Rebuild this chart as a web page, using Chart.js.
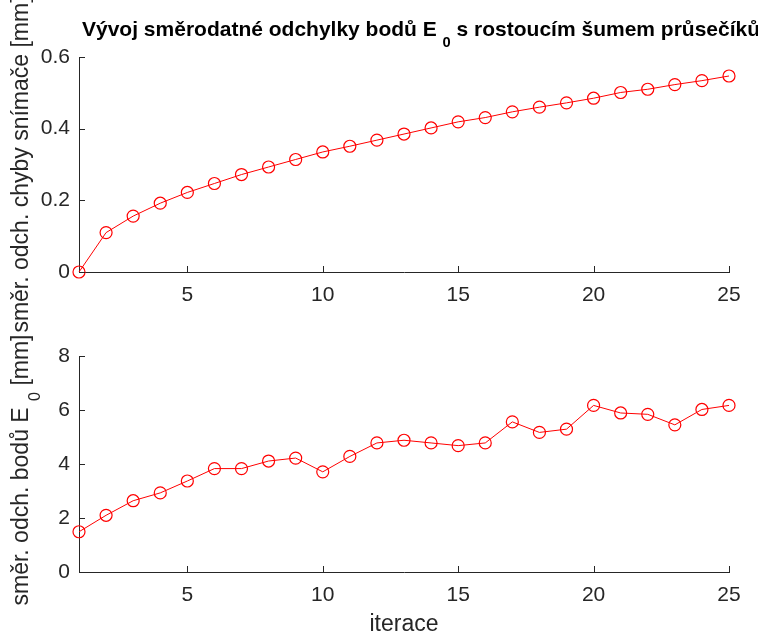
<!DOCTYPE html>
<html>
<head>
<meta charset="utf-8">
<script src="https://cdn.jsdelivr.net/npm/chart.js@4.4.1/dist/chart.umd.min.js"></script>
<style>
  body { margin: 0; background: #fff; width: 758px; height: 634px; overflow: hidden; position: relative; }
  .box { position: absolute; left: 0; top: 0; width: 758px; height: 634px; }
</style>
</head>
<body>
<div class="box"><canvas id="topChart"></canvas></div>
<div class="box"><canvas id="bottomChart"></canvas></div>
<script>
const iterations = [1, 2, 3, 4, 5, 6, 7, 8, 9, 10, 11, 12, 13, 14, 15, 16, 17, 18, 19, 20, 21, 22, 23, 24, 25];
const sensorStd = [0, 0.110, 0.156, 0.192, 0.222, 0.247, 0.272, 0.293, 0.314, 0.335, 0.351, 0.368, 0.385,
                   0.402, 0.419, 0.431, 0.447, 0.460, 0.472, 0.485, 0.501, 0.510, 0.523, 0.534, 0.547];
const pointStd = [1.49, 2.10, 2.64, 2.93, 3.37, 3.83, 3.83, 4.11, 4.22, 3.71, 4.28, 4.78, 4.88,
                  4.78, 4.68, 4.78, 5.56, 5.17, 5.29, 6.17, 5.89, 5.84, 5.45, 6.02, 6.17];
const xTicks = [5, 10, 15, 20, 25];
const topYTicks = [0, 0.2, 0.4, 0.6];
const bottomYTicks = [0, 2, 4, 6, 8];

const FONT = '"Liberation Sans", Arial, Helvetica, sans-serif';
const INK = '#262626';

// draws text pieces, some as subscripts, starting at x (baseline y)
function drawParts(ctx, parts, x, y, size, bold) {
    parts.forEach(p => {
        const s = p.sub ? size * 0.7 : size;
        ctx.font = (bold ? 'bold ' : '') + s + 'px ' + FONT;
        ctx.fillText(p.t, x, y + (p.sub ? size * 0.5 : 0));
        x += ctx.measureText(p.t).width;
    });
}
function partsWidth(ctx, parts, size, bold) {
    let w = 0;
    parts.forEach(p => {
        ctx.font = (bold ? 'bold ' : '') + (p.sub ? size * 0.7 : size) + 'px ' + FONT;
        w += ctx.measureText(p.t).width;
    });
    return w;
}

// MATLAB style: ticks pointing inward + labels
const decor = {
    id: 'decor',
    afterDraw(chart, args, opts) {
        const { ctx, chartArea: a, scales } = chart;
        ctx.save();
        ctx.strokeStyle = INK;
        ctx.lineWidth = 1;
        scales.x.ticks.forEach(t => {
            const px = Math.round(scales.x.getPixelForValue(t.value)) + 0.5;
            ctx.beginPath(); ctx.moveTo(px, a.bottom); ctx.lineTo(px, a.bottom - 6); ctx.stroke();
        });
        scales.y.ticks.forEach(t => {
            const py = Math.round(scales.y.getPixelForValue(t.value)) + 0.5;
            ctx.beginPath(); ctx.moveTo(a.left, py); ctx.lineTo(a.left + 6, py); ctx.stroke();
        });

        ctx.fillStyle = INK;
        ctx.textBaseline = 'alphabetic';
        ctx.textAlign = 'left';
        // y label, rotated
        const size = 23;
        const w = partsWidth(ctx, opts.yLabel, size, false);
        ctx.save();
        ctx.translate(opts.yLabelX, (a.top + a.bottom) / 2 + (opts.yLabelShift || 0));
        ctx.rotate(-Math.PI / 2);
        drawParts(ctx, opts.yLabel, -w / 2, 0, size, false);
        ctx.restore();

        if (opts.title) {
            ctx.fillStyle = '#000';
            drawParts(ctx, opts.title, opts.titleX, opts.titleY, 21, true);
        }
        if (opts.xLabel) {
            ctx.font = '23px ' + FONT;
            ctx.textAlign = 'center';
            ctx.fillText(opts.xLabel, (a.left + a.right) / 2, opts.xLabelY);
        }
        ctx.restore();
    }
};

function makeChart(id, values, yMax, yTicks, pad, xHeight, decorOpts) {
    return new Chart(document.getElementById(id), {
        type: 'line',
        data: {
            datasets: [{
                data: iterations.map((x, i) => ({ x: x, y: values[i] })),
                borderColor: '#ff0000',
                borderWidth: 1,
                pointStyle: 'circle',
                pointRadius: 6,
                pointBorderWidth: 1.2,
                pointBorderColor: '#ff0000',
                pointBackgroundColor: 'rgba(0,0,0,0)',
                tension: 0,
                clip: false
            }]
        },
        options: {
            responsive: true,
            maintainAspectRatio: false,
            animation: false,
            layout: { padding: pad },
            plugins: {
                legend: { display: false },
                tooltip: { enabled: false },
                decor: decorOpts
            },
            scales: {
                x: {
                    type: 'linear',
                    min: 1,
                    max: 25,
                    afterBuildTicks: s => { s.ticks = xTicks.map(v => ({ value: v })); },
                    afterFit: s => { s.height = xHeight; },
                    grid: { display: false, drawTicks: false },
                    border: { display: true, color: INK, width: 1 },
                    ticks: { color: INK, font: { family: FONT, size: 21 }, padding: 11, maxRotation: 0, autoSkip: false }
                },
                y: {
                    min: 0,
                    max: yMax,
                    afterBuildTicks: s => { s.ticks = yTicks.map(v => ({ value: v })); },
                    afterFit: s => { s.width = 79; },
                    grid: { display: false, drawTicks: false },
                    border: { display: true, color: INK, width: 1 },
                    ticks: { color: INK, font: { family: FONT, size: 21 }, padding: 9, callback: v => String(v) }
                }
            }
        },
        plugins: [decor]
    });
}

// both canvases cover the whole page; paddings place each plot area
makeChart('topChart', sensorStd, 0.6, topYTicks, { left: 0, right: 29, top: 57, bottom: 317 }, 45, {
    yLabel: [{ t: 'směr. odch. chyby snímače [mm]' }],
    yLabelX: 28,
    title: [{ t: 'Vývoj směrodatné odchylky bodů E ' }, { t: '0', sub: true }, { t: ' s rostoucím šumem průsečíků' }],
    titleX: 82,
    titleY: 36
});

makeChart('bottomChart', pointStd, 8, bottomYTicks, { left: 0, right: 29, top: 356, bottom: 0 }, 62, {
    yLabel: [{ t: 'směr. odch. bodů E ' }, { t: '0', sub: true }, { t: ' [mm]' }],
    yLabelX: 28,
    yLabelShift: 6,
    xLabel: 'iterace',
    xLabelY: 631
});
</script>
</body>
</html>
